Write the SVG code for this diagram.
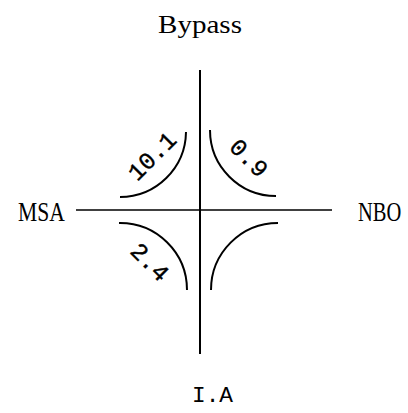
<svg xmlns="http://www.w3.org/2000/svg" width="408" height="413" viewBox="0 0 408 413">
<style>
.lbl{font-family:"Liberation Serif",serif;fill:#000}
.mono{font-family:"Liberation Mono",monospace;fill:#000}
.ax{stroke:#000;fill:none}
.arc{stroke:#000;stroke-width:2;fill:none}
.num{font-family:"Liberation Mono",monospace;font-size:24px;fill:#000;stroke:#000;stroke-width:0.4;text-anchor:middle;dominant-baseline:central}
</style>
<rect width="408" height="413" fill="#fff"/>
<g id="connectors">
<line class="ax" x1="200" y1="70" x2="200" y2="354" stroke-width="2"/>
<line class="ax" x1="76" y1="210" x2="332" y2="210" stroke-width="1.5"/>
<path class="arc" d="M186,132 A66,66 0 0 1 120,197"/>
<path class="arc" d="M210,130 A66,66 0 0 0 276,196"/>
<path class="arc" d="M119,223 A67,67 0 0 1 187,290"/>
<path class="arc" d="M278,223 A67,67 0 0 0 211,290"/>
</g>
<g id="bypass"><text class="lbl" x="200" y="33" font-size="26" text-anchor="middle" textLength="84" lengthAdjust="spacingAndGlyphs">Bypass</text></g>
<g id="msa"><text class="lbl" transform="translate(18,221) scale(0.8,1)" font-size="27">MSA</text></g>
<g id="nbo"><text class="lbl" transform="translate(358,221) scale(0.76,1)" font-size="27">NBO</text></g>
<g id="ia"><text class="mono" x="192" y="402" font-size="22" textLength="41" lengthAdjust="spacingAndGlyphs">I.A</text></g>
<g id="v101"><text class="num" transform="translate(153,157) rotate(-45)">10.1</text></g>
<g id="v09"><text class="num" transform="translate(248,159) rotate(45)">0.9</text></g>
<g id="v24"><text class="num" transform="translate(149,263) rotate(45)">2.4</text></g>
</svg>
